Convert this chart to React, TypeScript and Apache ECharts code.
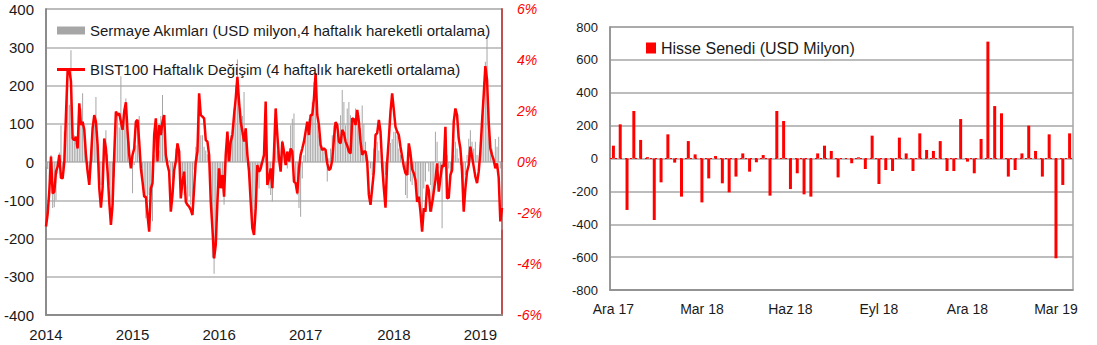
import React, { useEffect, useRef } from "react";
import * as echarts from "echarts";

// Left chart: weekly data, first week of Jan 2014 to early Apr 2019
const yearLabels = ["2014", "2015", "2016", "2017", "2018", "2019"];
const yearStartWeek = [0, 52, 104, 156, 209, 261];

// Sermaye Akımları (USD milyon, 4 haftalık hareketli ortalama)
const capitalFlows = [
  -12, -18, -40, 18, -120, -118, -100, -30, 25, 96,
  -20, 80, 120, 240, 150, 292, 60, 70, 50, 35,
  100, 140, 180, 88, 18, -15, -25, 30, 70, 120,
  170, 80, -30, -60, -35, 40, 83, 20, -60, -100,
  -130, -40, 96, 122, 90, 224, 96, 140, 166, 120,
  53, 18, -82, -8, 44, 96, 120, -25, -51, -90,
  -147, -120, -86, -77, -155, 18, 96, 60, 30, 120,
  175, 122, 40, 10, 5, -25, -50, -17, 35, 50,
  10, -50, -34, -86, -70, -103, -90, -112, -100, -20,
  40, 50, 122, 70, 70, 40, 30, 20, 0, -100,
  -250, -292, -216, -138, -34, -51, -69, -112, 18, 79,
  35, 70, 96, 140, 200, 268, 166, 140, 120, 183,
  88, 40, -30, -103, -173, -190, -138, -17, -69, -25,
  0, 53, 140, -25, -69, -86, -103, 40, 80, 30,
  10, -10, 57, 20, 0, -17, 18, 96, 113, 127,
  -51, -86, -120, -143, -43, 18, 88, 95, 113, 122,
  157, 210, 175, 96, 70, 53, 35, 28, 18, -51,
  10, 35, 70, 96, 105, 70, 53, 122, 188, 157,
  96, 140, 157, 122, 96, 113, 140, 131, 122, 88,
  148, 100, 53, 18, 0, -17, -34, 35, 61, 53,
  30, 0, -25, -51, -34, 10, 35, 50, 60, 79,
  79, 70, 35, 18, 0, -17, -86, -95, -34, -51,
  -60, -34, -69, -103, -99, -112, -138, -69, -51, -3,
  -25, -60, -130, -103, 79, 53, -17, -60, -173, -17,
  53, 18, -17, -43, -25, 18, 53, 35, 10, -8,
  -25, -69, -34, 18, 61, 83, 53, 35, 53, 18,
  0, 53, 122, 210, 262, 331, 140, 53, 35, 10,
  60, 40, 66, -17, -177,
];

// BIST100 Haftalık Değişim (%, 4 haftalık hareketli ortalama)
const bistChange = [
  -2.53, -2.03, -1.13, 0.21, -1.23, -1.16, -0.38, -0.18, 0.28, -0.62,
  -0.64, 0, 1.84, 3.61, 3.61, 3.16, 0.92, 0.86, 0.99, 0.53,
  2.30, 1.45, 1.58, 1.26, 0.28, -0.38, -0.90, 0.14, 1.32, 1.84,
  1.58, 0.67, -1.03, -1.79, -1.03, 0.92, 0.53, -0.38, -1.56, -2.47,
  -1.68, 0.28, 1.98, 1.84, 1.91, 1.58, 1.26, 1.98, 2.34, 1.19,
  0.28, -0.25, 0.28, 0.53, 1.58, 1.65, 0.80, -0.25, -0.77, -1.36,
  -1.36, -2.08, -2.73, -1.03, -0.83, 1.06, 1.71, 0.02, 1.45, 1.06,
  1.58, 1.84, 0.28, -0.12, -0.38, -1.95, -1.29, -0.32, 0.02, 0.73,
  0.41, -1.43, -0.77, -0.38, -1.56, -1.68, -1.75, -1.88, -2.08, -1.03,
  0.02, 0.41, 2.69, 1.84, 1.78, 1.71, 0.86, 0.80, 0.28, -1.56,
  -2.60, -3.78, -3.25, -1.56, -0.25, -1.03, -0.51, -1.36, 0.28, 1.19,
  0.02, 0.80, 1.06, 1.84, 2.50, 3.34, 2.37, 1.58, 1.19, 0.80,
  1.32, 0.28, -0.38, -1.56, -2.60, -2.86, -1.82, -0.12, -0.38, -0.25,
  0.02, 0.28, 2.37, -0.90, -0.64, -0.25, -1.03, 0.38, 2.10, 1.06,
  0.14, -0.38, 0.80, 0.41, -0.12, 0.41, 0.02, 0.53, 0.41, -0.77,
  -0.83, -1.23, -0.25, 0.28, 0.53, 0.80, 1.19, 1.58, 1.06, 1.84,
  1.84, 2.50, 3.48, 1.84, 1.45, 0.67, 0.47, 0.53, 0.47, -0.05,
  -0.32, -0.25, 0.08, 0.92, 1.56, 1.45, 0.80, 0.73, 1.26, 1.13,
  0.80, 0.64, 0.41, 0.34, 1.71, 1.68, 1.45, 2.04, 1.58, 0.80,
  0.28, 0.41, 0.41, 0.02, -1.29, -1.68, -1.03, -0.38, 1.06, 1.13,
  1.65, 1.19, -0.12, -1.03, -1.79, 0, 0.92, 1.98, 2.69, 2.04,
  1.38, 1.19, 1.06, 0.60, 0.21, -0.18, -0.44, -0.51, 0.73, 0.34,
  -0.28, -0.44, -0.71, -1.56, -1.36, -1.95, -2.73, -1.82, -1.95, -0.90,
  -1.10, -1.95, -1.62, -1.16, -0.71, -0.05, -1.16, -0.64, -0.12, -0.18,
  1.38, -1.43, -1.40, -0.51, -0.32, 1.58, 2.10, 1.84, 0.92, 0.53,
  -0.38, -1.95, -1.03, -0.38, -0.12, 0.60, 0.21, -0.18, -0.58, -0.83,
  -0.38, 0.41, 1.58, 2.63, 3.76, 3.23, 1.58, 0.53, 0.28, 0.08,
  -0.25, -0.05, -0.60, -2.33, -1.80,
];

// Right chart: weekly equity flows, Dec 2017 - Mar 2019
const monthLabels = ["Ara 17", "Mar 18", "Haz 18", "Eyl 18", "Ara 18", "Mar 19"];
const monthStartIndex = [0, 13, 26, 39, 52, 65];

// Hisse Senedi (USD Milyon)
const equityFlows = [
  78, 208, -313, 289, 113, 8, -374, -145, 147, -25,
  -232, 106, 25, -267, -121, 15, -151, -206, -110, 31,
  -80, -23, 21, -226, 289, 228, -186, -90, -218, -232,
  31, 78, 46, -115, 0, -29, 7, -64, 139, -155,
  -70, -76, 127, 31, -76, 153, 52, 46, 106, -76,
  -76, 240, -19, -90, 119, 711, 319, 275, -110, -70,
  31, 200, 46, -110, 147, -607, -161, 153,
];

const legendFlows = "Sermaye Akımları (USD milyon,4 haftalık hareketli ortalama)";
const legendBist = "BIST100 Haftalık Değişim (4 haftalık hareketli ortalama)";
const legendEquity = "Hisse Senedi (USD Milyon)";

export default function App() {
  const ref = useRef<HTMLDivElement>(null);

  useEffect(() => {
    document.body.style.margin = "0";
    const chart = echarts.init(ref.current!, null, { renderer: "svg" });
    const weekCats = capitalFlows.map((_, i) => String(i));
    const eqCats = equityFlows.map((_, i) => String(i));
    const font = "'Liberation Sans', Arial, sans-serif";
    const textColor = "#1a1a1a";

    const option: any = {
      animation: false,
      backgroundColor: "#ffffff",
      textStyle: { fontFamily: font },
      grid: [
        { left: 46, top: 9, width: 456, height: 306, show: true, borderColor: "#a6a6a6", borderWidth: 1 },
        { left: 610, top: 27, width: 463, height: 263, show: true, borderColor: "#a6a6a6", borderWidth: 1.5 },
      ],
      legend: [
        {
          data: [{ name: legendFlows, icon: "rect" }], left: 57, top: 23, padding: 0,
          itemWidth: 28, itemHeight: 8,
          textStyle: { fontSize: 15, color: textColor, fontFamily: font },
        },
        {
          data: [{ name: legendBist, icon: "rect" }], left: 57, top: 62, padding: 0,
          itemWidth: 28, itemHeight: 3,
          textStyle: { fontSize: 15, color: textColor, fontFamily: font },
        },
        {
          data: [{ name: legendEquity, icon: "rect" }], left: 646, top: 40, padding: 0,
          itemWidth: 10, itemHeight: 11,
          textStyle: { fontSize: 16, color: textColor, fontFamily: font },
        },
      ],
      xAxis: [
        {
          gridIndex: 0, type: "category", data: weekCats, boundaryGap: false,
          axisLine: { onZero: false, lineStyle: { color: "#8c8c8c", width: 2 } },
          axisTick: { show: false },
          axisLabel: {
            interval: (i: number) => yearStartWeek.includes(i),
            formatter: (_v: string, i: number) => {
              const k = yearStartWeek.indexOf(i);
              return k >= 0 ? yearLabels[k] : "";
            },
            fontSize: 15, color: textColor, margin: 12,
          },
          splitLine: { show: false },
        },
        {
          gridIndex: 1, type: "category", data: eqCats,
          axisLine: { onZero: false, lineStyle: { color: "#8c8c8c", width: 1.5 } },
          axisTick: { show: false },
          axisLabel: {
            interval: (i: number) => monthStartIndex.includes(i),
            formatter: (_v: string, i: number) => {
              const k = monthStartIndex.indexOf(i);
              return k >= 0 ? monthLabels[k] : "";
            },
            fontSize: 14, color: textColor, margin: 12,
          },
          splitLine: { show: false },
        },
      ],
      yAxis: [
        {
          gridIndex: 0, type: "value", min: -400, max: 400, interval: 100,
          axisLine: { show: true, lineStyle: { color: "#8c8c8c", width: 2 } },
          axisTick: { show: false },
          splitLine: { lineStyle: { color: "#b3b3b3", width: 1.5 } },
          axisLabel: { fontSize: 15, color: textColor, margin: 12 },
        },
        {
          gridIndex: 0, type: "value", position: "right", min: -6, max: 6, interval: 2,
          axisLine: { show: true, lineStyle: { color: "#c0504d", width: 2 } },
          axisTick: { show: false },
          splitLine: { show: false },
          axisLabel: { formatter: "{value}%", fontStyle: "italic", color: "#ff0000", fontSize: 14, margin: 15 },
        },
        {
          gridIndex: 1, type: "value", min: -800, max: 800, interval: 200,
          axisLine: { show: true, lineStyle: { color: "#8c8c8c", width: 1.5 } },
          axisTick: { show: false },
          splitLine: { lineStyle: { color: "#a6a6a6", width: 1.5 } },
          axisLabel: { fontSize: 13, color: textColor, margin: 12 },
        },
      ],
      series: [
        {
          type: "bar", name: legendFlows, xAxisIndex: 0, yAxisIndex: 0,
          data: capitalFlows, barWidth: 1, itemStyle: { color: "#a6a6a6" }, z: 2,
        },
        {
          type: "line", name: legendBist, xAxisIndex: 0, yAxisIndex: 1,
          data: bistChange, symbol: "none", z: 3,
          lineStyle: { color: "#ff0000", width: 2.5 }, itemStyle: { color: "#ff0000" },
        },
        {
          type: "bar", name: legendEquity, xAxisIndex: 1, yAxisIndex: 2,
          data: equityFlows, barWidth: 3, itemStyle: { color: "#ff0000" },
          markLine: {
            silent: true, symbol: "none", label: { show: false },
            lineStyle: { color: "#ff0000", type: [2, 3], width: 1 },
            data: [{ yAxis: 0 }],
          },
        },
      ],
    };

    chart.setOption(option);
    return () => chart.dispose();
  }, []);

  return <div ref={ref} style={{ width: 1097, height: 345 }} />;
}
